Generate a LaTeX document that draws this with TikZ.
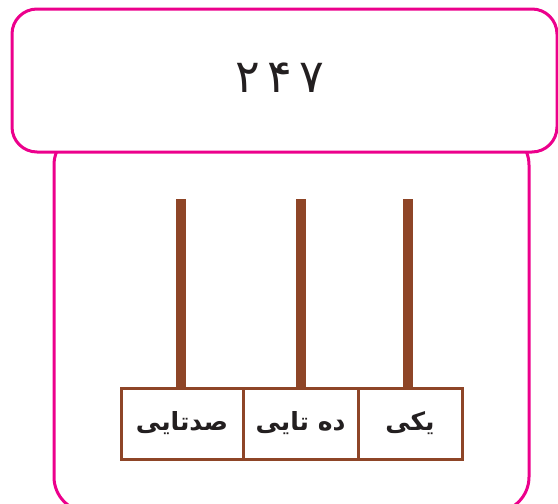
\documentclass[tikz,border=0pt]{standalone}
\usepackage{fontspec}
\usepackage{tikz}
\usetikzlibrary{positioning}
\TeXXeTstate=1
\newfontfamily\arabicfont[Script=Arabic]{DejaVu Sans}
\definecolor{framepink}{HTML}{EC008C}
\definecolor{rodbrown}{HTML}{8E4527}
\definecolor{digitink}{HTML}{231F20}
\tikzset{
  framebox/.style={draw=framepink,fill=white,line width=3pt,rounded corners=25pt},
  rod/.style={draw=rodbrown,line width=10pt},
  cellbox/.style={draw=rodbrown,line width=3pt,outer sep=0pt,inner sep=0pt,
                  minimum height=71pt,text=digitink,
                  font=\arabicfont\bfseries\fontsize{25}{30}\selectfont}
}

\begin{document}
\begin{tikzpicture}[x=1pt,y=-1pt]
    \useasboundingbox (0,0) rectangle (558,504);
    \clip (0,0) rectangle (558,504);
    % outer frame, cut by the page at the bottom
    \draw[framebox,rounded corners=35pt] (54,130) rectangle (529,512);
    \node[framebox,minimum width=545pt,minimum height=143pt] (header) at (284.5,80.5) {};
    \node[text=digitink,font=\arabicfont\fontsize{46}{52}\selectfont] (number) at (280,78)
      {۲\hspace{7pt}۴\hspace{7pt}۷};
    % base of the abacus
    \node[cellbox,minimum width=122pt] (hundreds) at (182,423.5) {\beginR صدتایی\endR};
    \node[cellbox,minimum width=115pt,right=0pt of hundreds] (tens) {\beginR ده تایی\endR};
    \node[cellbox,minimum width=104pt,right=0pt of tens] (ones) {\beginR یکی\endR};
    % rods
    \coordinate (hundredstop) at (181,199);
    \coordinate (tenstop) at (301,199);
    \coordinate (onestop) at (408,199);
    \draw[rod] (hundredstop) -- (hundredstop |- hundreds.north);
    \draw[rod] (tenstop) -- (tenstop |- tens.north);
    \draw[rod] (onestop) -- (onestop |- ones.north);
\end{tikzpicture}
\end{document}
